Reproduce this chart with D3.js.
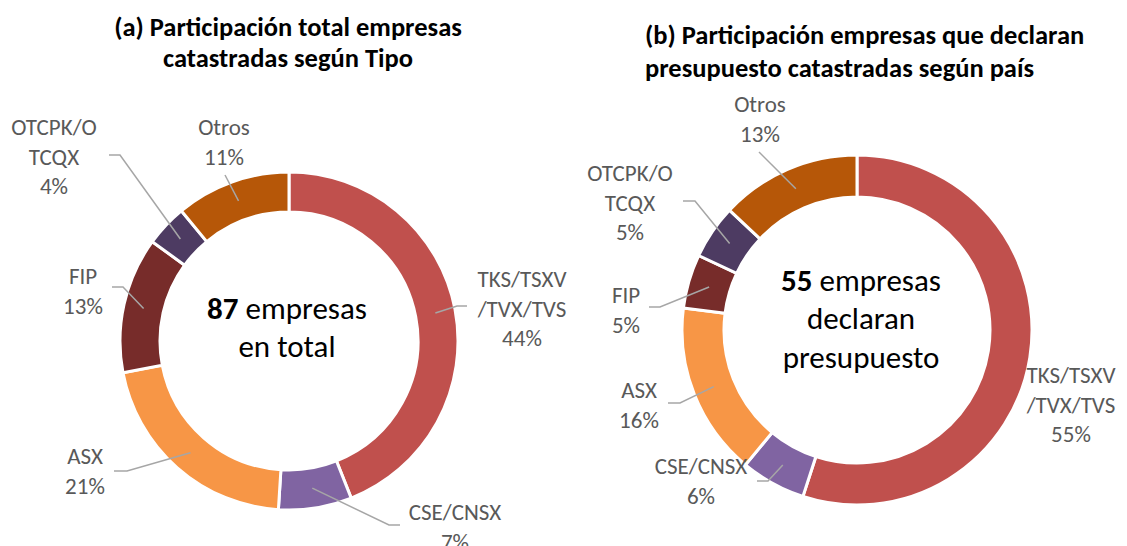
<!DOCTYPE html>
<html>
<head>
<meta charset="utf-8">
<script src="https://cdn.jsdelivr.net/npm/d3@7"></script>
<style>
  body { margin: 0; background: #fff; }
  svg { display: block; font-family: Carlito, Lato, "Open Sans", sans-serif; }
</style>
</head>
<body>
<svg id="chart" width="1127" height="546"></svg>
<script>
// categories, same order for both donuts (clockwise from 12 o'clock)
const categories = ["TKS/TSXV/TVX/TVS", "CSE/CNSX", "ASX", "FIP", "OTCPK/OTCQX", "Otros"]
const labelLines = [["TKS/TSXV", "/TVX/TVS"], ["CSE/CNSX"], ["ASX"], ["FIP"], ["OTCPK/O", "TCQX"], ["Otros"]]
const colors = ["#C0504D", "#8064A2", "#F79646", "#772C2A", "#4D3B62", "#B65708"]

// (a) total empresas por tipo, % ; (b) empresas que declaran presupuesto, %
const valuesA = [44, 7, 21, 13, 4, 11]
const valuesB = [55, 6, 16, 5, 5, 13]

const titleA = ["(a) Participación total empresas", "catastradas según Tipo"]
const titleB = ["(b) Participación empresas que declaran", "presupuesto catastradas según país"]
const centerA = [["87", " empresas"], ["", "en total"]]
const centerB = [["55", " empresas"], ["", "declaran"], ["", "presupuesto"]]

const svg = d3.select('#chart')

// label placement: text centre (first line) + leader elbow/end
const layoutA = {
  cx: 289, cy: 341, rO: 169, rI: 129,
  title: {x: 288, y: 27, anchor: "middle", gap: 31},
  center: {x: 287, y: 308},
  labels: [
    {x: 522, y: 279, line: [[457, 306], [467, 306]]},
    {x: 455, y: 512, line: [[389, 525], [400, 525]]},
    {x: 85, y: 456, line: [[127, 471], [114, 471]]},
    {x: 83, y: 276, line: [[123, 287], [112, 287]]},
    {x: 54, y: 127, line: [[120, 155], [109, 155]]},
    {x: 224, y: 127, line: [[225, 175]]}
  ]
}
const layoutB = {
  cx: 857, cy: 330, rO: 175, rI: 133,
  title: {x: 645, y: 35, anchor: "start", gap: 33},
  center: {x: 861, y: 280},
  labels: [
    {x: 1071, y: 375, line: null},
    {x: 701, y: 466, line: [[768, 481], [757, 481]]},
    {x: 639, y: 390, line: [[680, 403], [668, 403]]},
    {x: 626, y: 295, line: [[660, 307], [649, 307]]},
    {x: 630, y: 173, line: [[695, 201], [683, 201]]},
    {x: 760, y: 104, line: [[759, 152]]}
  ]
}

function drawDonut(values, lay, title, centerText) {
  const g = svg.append('g')

  // title
  g.append('text')
    .attr('text-anchor', lay.title.anchor)
    .style('font-size', '26.5px')
    .style('font-weight', 'bold')
    .attr('fill', '#000')
    .selectAll('tspan')
    .data(title)
    .join('tspan')
    .attr('x', lay.title.x)
    .attr('y', (d, i) => lay.title.y + i * lay.title.gap)
    .attr('dy', '0.35em')
    .text(d => d)

  const pie = d3.pie().sort(null).value(d => d)
  const arcs = pie(values)
  const arc = d3.arc().innerRadius(lay.rI).outerRadius(lay.rO)

  const ring = g.append('g').attr('transform', `translate(${lay.cx},${lay.cy})`)
  ring.selectAll('path')
    .data(arcs)
    .join('path')
    .attr('d', arc)
    .attr('fill', (d, i) => colors[i])
    .attr('stroke', '#fff')
    .attr('stroke-width', 3)

  // leader lines from slice centroid
  arcs.forEach((d, i) => {
    const lb = lay.labels[i]
    if (!lb.line) return
    const c = arc.centroid(d)
    const pts = [[c[0] + lay.cx, c[1] + lay.cy]].concat(lb.line)
    g.append('path')
      .attr('d', d3.line()(pts))
      .attr('fill', 'none')
      .attr('stroke', '#A6A6A6')
      .attr('stroke-width', 1.5)
  })

  // data labels
  arcs.forEach((d, i) => {
    const lb = lay.labels[i]
    const lines = labelLines[i].concat([d3.format('.0%')(values[i] / 100)])
    g.append('text')
      .attr('text-anchor', 'middle')
      .attr('fill', '#595959')
      .style('font-size', '23px')
      .selectAll('tspan')
      .data(lines)
      .join('tspan')
      .attr('x', lb.x)
      .attr('y', (t, j) => lb.y + j * 29.5)
      .attr('dy', '0.35em')
      .text(t => t)
  })

  // centre text
  const ct = g.append('text')
    .attr('text-anchor', 'middle')
    .attr('fill', '#000')
    .style('font-size', '31px')
  centerText.forEach((pair, j) => {
    const line = ct.append('tspan')
      .attr('x', lay.center.x)
      .attr('y', lay.center.y + j * 38.5)
      .attr('dy', '0.35em')
    if (pair[0]) line.append('tspan').style('font-weight', 'bold').text(pair[0])
    line.append('tspan').text(pair[1])
  })
}

drawDonut(valuesA, layoutA, titleA, centerA)
drawDonut(valuesB, layoutB, titleB, centerB)
</script>
</body>
</html>
